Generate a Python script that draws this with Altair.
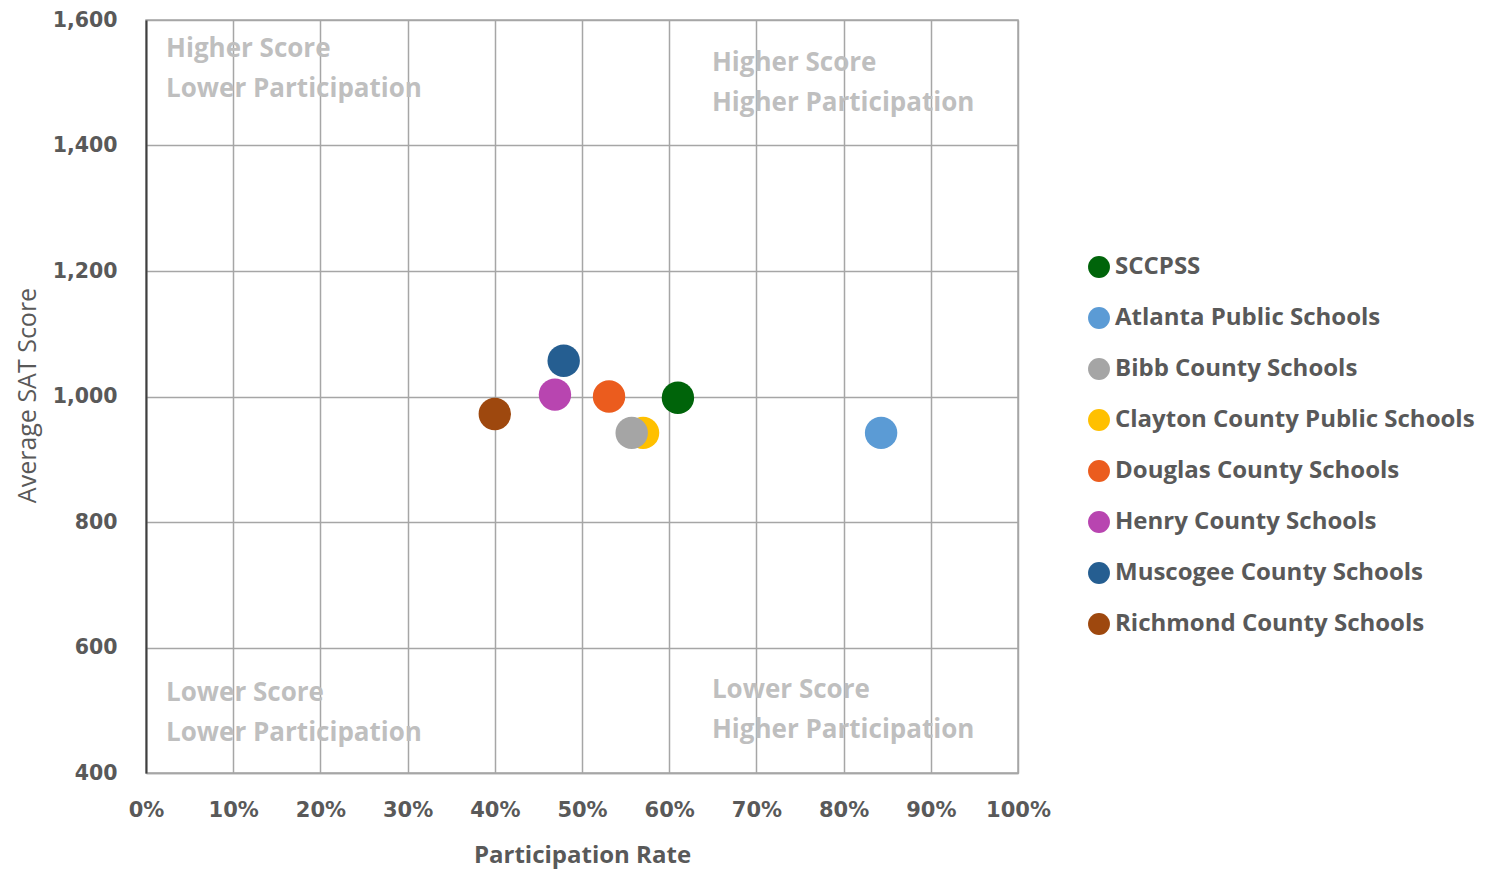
import altair as alt
import pandas as pd

districts = ["SCCPSS", "Atlanta Public Schools", "Clayton County Public Schools", "Bibb County Schools",
             "Douglas County Schools", "Muscogee County Schools", "Henry County Schools", "Richmond County Schools"]
participation = [0.61, 0.843, 0.570, 0.557, 0.531, 0.479, 0.469, 0.400]
sat_score = [998, 942, 942, 942, 1000, 1057, 1003, 972]

legend_order = ["SCCPSS", "Atlanta Public Schools", "Bibb County Schools", "Clayton County Public Schools",
                "Douglas County Schools", "Henry County Schools", "Muscogee County Schools", "Richmond County Schools"]
legend_colors = ["#00640a", "#5b9bd5", "#a5a5a5", "#ffc000", "#eb5c1e", "#b845b0", "#255e91", "#9e480e"]

quad_text = ["Higher Score", "Lower Participation", "Higher Score", "Higher Participation",
             "Lower Score", "Lower Participation", "Lower Score", "Higher Participation"]
quad_x = [0.023, 0.023, 0.649, 0.649, 0.023, 0.023, 0.649, 0.649]
quad_y = [1553, 1490, 1531, 1468, 527, 463, 533, 469]

df = pd.DataFrame({"District": districts, "Participation": participation, "SAT": sat_score})
qdf = pd.DataFrame({"text": quad_text, "x": quad_x, "y": quad_y})

xscale = alt.Scale(domain=[0, 1], nice=False)
yscale = alt.Scale(domain=[400, 1600], nice=False, zero=False)

points = alt.Chart(df).mark_circle(opacity=1, size=1050).encode(
    x=alt.X("Participation:Q", scale=xscale,
            axis=alt.Axis(format=".0%", values=[i / 10 for i in range(11)], title="Participation Rate",
                          grid=True, gridColor="#a6a6a6", gridWidth=1.5, ticks=False,
                          domainColor="#a6a6a6", domainWidth=1.5, labelFlush=False,
                          labelFont="DejaVu Sans", labelFontWeight="bold", labelFontSize=21,
                          labelColor="#595959", labelPadding=26,
                          titleFont="Open Sans", titleFontWeight="bold", titleFontSize=24, titleColor="#595959",
                          titleX=436, titleY=82, titleBaseline="middle")),
    y=alt.Y("SAT:Q", scale=yscale,
            axis=alt.Axis(format=",d", values=[400, 600, 800, 1000, 1200, 1400, 1600], title="Average SAT Score",
                          grid=True, gridColor="#a6a6a6", gridWidth=1.5, ticks=False,
                          domainColor="#404040", domainWidth=2, labelFlush=False,
                          labelFont="DejaVu Sans", labelFontWeight="bold", labelFontSize=20.5,
                          labelColor="#595959", labelPadding=29,
                          titleFont="Open Sans", titleFontWeight="normal", titleFontSize=25,
                          titleColor="#595959", titleX=-119, titleY=375, titleAngle=-90,
                          titleAlign="center", titleBaseline="middle")),
    color=alt.Color("District:N",
                    scale=alt.Scale(domain=legend_order, range=legend_colors),
                    legend=alt.Legend(title=None, orient="none", legendX=941, legendY=235,
                                      symbolType="circle", symbolSize=480, symbolStrokeWidth=0,
                                      labelFont="Open Sans", labelFontWeight="bold", labelFontSize=24,
                                      labelColor="#595959", labelOffset=4, rowPadding=27,
                                      labelLimit=450)),
)

quads = alt.Chart(qdf).mark_text(align="left", baseline="middle", font="Open Sans", fontWeight="bold",
                                  fontSize=26, color="#bfbfbf").encode(
    x=alt.X("x:Q", scale=xscale), y=alt.Y("y:Q", scale=yscale), text="text:N")

chart = alt.layer(quads, points).properties(
    width=872, height=753,
    autosize=alt.AutoSizeParams(type="none"),
    padding={"left": 138, "top": 12, "right": 467, "bottom": 97},
).configure_view(stroke="#a6a6a6", strokeWidth=1.5)

chart.save("out.html", embed_options={"renderer": "svg", "actions": False})
